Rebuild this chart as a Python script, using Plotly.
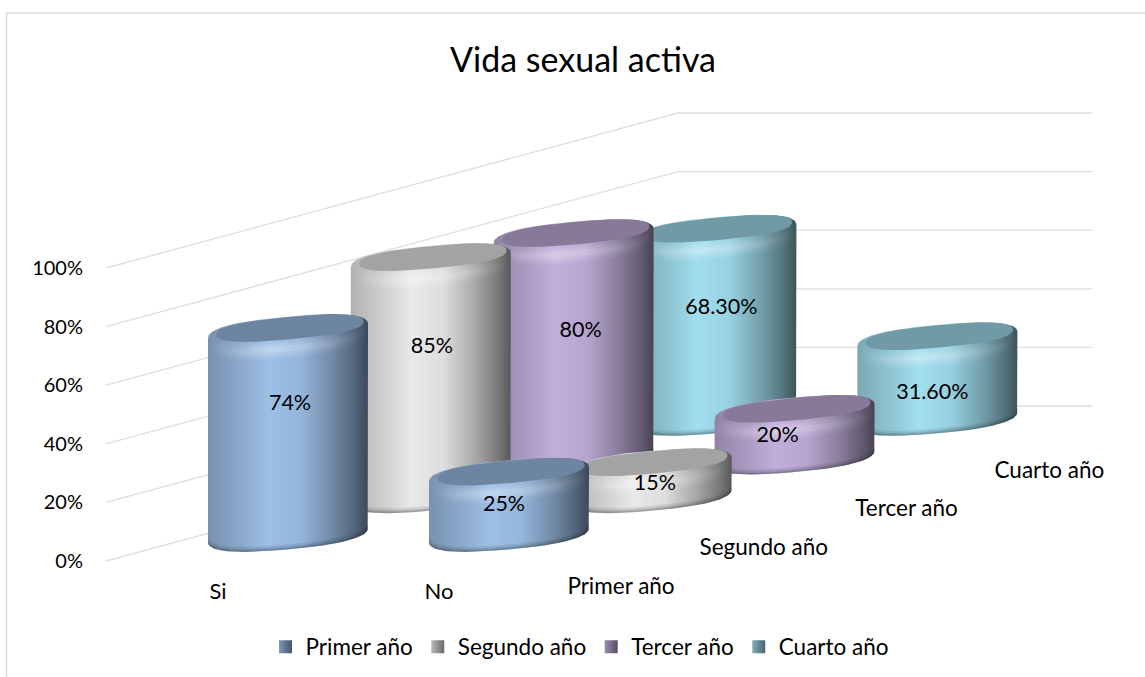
import math
import plotly.graph_objects as go

# ---------- data ----------
categories = ["Si", "No"]
series_names = ["Primer año", "Segundo año", "Tercer año", "Cuarto año"]
primer = [74, 25]
segundo = [85, 15]
tercer = [80, 20]
cuarto = [68.3, 31.6]
label_text = [["74%", "25%"], ["85%", "15%"], ["80%", "20%"], ["68.30%", "31.60%"]]
y_ticks = [0, 20, 40, 60, 80, 100]
values = [primer, segundo, tercer, cuarto]

# ---------- style / projection ----------
W, H = 1145, 677
FONT = "Lato"
PX = 2.93            # pixels per percent on the value axis
ZERO_PX = 561
X_LEFT = 100
base_colors = ["#9dbfe6", "#e9e9e9", "#c1aeda", "#a1deee"]
RX, RY, SHEAR = 80, 15.0, 0.09
SUPER = 0.8
X0, CAT_DX, SER_DX = 288, 221, 142.8
BASE0, SER_DY = 9.08, 13.2   # in percent units
BEVEL = 13 / PX
WALL_X0, WALL_X1, WALL_X2 = 106, 678, 1092
WALL_DY = 52.9
# manual data-label offsets (px) from the bar centre; y is measured from the mid-height
label_off = [[(2, -27.5), (-5, 1.5)], [(1, -30.5), (3, 4)], [(7, -14.5), (-17, 2.5)], [(5, -16), (-5, 15.5)]]


def rgb(hex_color, k=1.0):
    r, g, b = [int(hex_color[i:i + 2], 16) for i in (1, 3, 5)]
    return "rgb(%d,%d,%d)" % (min(255, r * k), min(255, g * k), min(255, b * k))


def spow(v, p):
    return math.copysign(abs(v) ** p, v)


def ell(cx, cy, rx, ry, t0, t1, n=60):
    xs, ys = [], []
    for i in range(n + 1):
        t = math.radians(t0 + (t1 - t0) * i / n)
        c, s = spow(math.cos(t), SUPER), spow(math.sin(t), SUPER)
        xs.append(cx + rx * c)
        ys.append(cy + (SHEAR * rx * c + ry * s) / PX)
    return xs, ys


def poly(xs, ys, **kw):
    return go.Scatter(x=xs, y=ys, mode="lines", fill="toself", line=dict(width=0),
                      hoverinfo="skip", showlegend=False, **kw)


fig = go.Figure()

# gridlines
for t in y_ticks:
    fig.add_trace(go.Scatter(
        x=[WALL_X0, WALL_X1, WALL_X2], y=[t, t + WALL_DY, t + WALL_DY], mode="lines",
        line=dict(color="#dedede", width=1.3), hoverinfo="skip", showlegend=False))


def cylinder(cx, base, v, col):
    top = base + v - BEVEL - 1 / PX
    body_stops = [(0, .76), (.16, .86), (.38, 1), (.58, .95), (.78, .72), (.92, .52), (1, .38)]
    cs = [[p, rgb(col, k)] for p, k in body_stops]
    # body silhouette
    x1, y1 = ell(cx, top, RX, RY, 180, 0)
    x2, y2 = ell(cx, base, RX, RY, 0, -180)
    fig.add_trace(poly(x1 + x2 + x1[:1], y1 + y2 + y1[:1],
                       fillgradient=dict(type="horizontal", colorscale=cs)))
    # bottom shade
    for d, a in ((5, .10), (3, .14), (1.5, .18)):
        xa, ya = ell(cx, base, RX, RY, 0, -180)
        xb, yb = ell(cx, base + d / PX, RX, RY, -180, 0)
        fig.add_trace(poly(xa + xb, ya + yb, fillcolor="rgba(30,40,50,%.2f)" % a))
    # highlight along the front of the top rim
    for d, a in ((9, .10), (6, .13), (3, .16)):
        xa, ya = ell(cx, top - (2 + d) / PX, RX - 1, RY, 180, 360)
        xb, yb = ell(cx, top - (2 - d) / PX, RX - 1, RY, 360, 180)
        fig.add_trace(poly(xa + xb, ya + yb, fillgradient=dict(
            type="horizontal",
            colorscale=[[0, "rgba(255,255,255,0)"], [.38, "rgba(255,255,255,%.2f)" % a],
                        [.72, "rgba(255,255,255,%.2f)" % (a * .5)], [1, "rgba(255,255,255,0)"]])))
    # top face
    xf, yf = ell(cx + 2, top + 3.5 / PX, RX * .92, RY * .75, 0, 360, 90)
    fig.add_trace(poly(xf, yf, fillcolor=rgb(col, .70)))


for s in range(len(values) - 1, -1, -1):
    for c in range(len(categories)):
        cylinder(X0 + CAT_DX * c + SER_DX * s, BASE0 + SER_DY * s, values[s][c], base_colors[s])

# value labels
for s in range(len(values)):
    for c in range(len(categories)):
        base = BASE0 + SER_DY * s
        top = base + values[s][c] - BEVEL
        dx, dy = label_off[s][c]
        fig.add_trace(go.Scatter(
            x=[X0 + CAT_DX * c + SER_DX * s + dx], y=[(base + top) / 2 - dy / PX],
            mode="text", text=[label_text[s][c]], textposition="middle center",
            textfont=dict(family=FONT, size=21.5, color="#000000"),
            hoverinfo="skip", showlegend=False))

# category and series axis labels
for c, name in enumerate(categories):
    fig.add_trace(go.Scatter(
        x=[218 + CAT_DX * c], y=[(ZERO_PX - 593) / PX], mode="text", text=[name],
        textfont=dict(family=FONT, size=22, color="#000000"), hoverinfo="skip", showlegend=False))
for s, name in enumerate(series_names):
    fig.add_trace(go.Scatter(
        x=[621 + SER_DX * s], y=[(ZERO_PX - 588) / PX + SER_DY * s], mode="text", text=[name],
        textfont=dict(family=FONT, size=22.5, color="#000000"), hoverinfo="skip", showlegend=False))

# legend entries
for s, name in enumerate(series_names):
    fig.add_trace(go.Scatter(
        x=[None], y=[None], mode="markers", name=name,
        marker=dict(symbol="square", size=13, color=rgb(base_colors[s], .8),
                    gradient=dict(type="horizontal", color=rgb(base_colors[s], .45)))))

fig.update_layout(
    width=W, height=H, margin=dict(l=0, r=0, t=0, b=0), autosize=False,
    paper_bgcolor="#ffffff", plot_bgcolor="rgba(0,0,0,0)",
    font=dict(family=FONT, color="#000000"),
    title=dict(text="Vida sexual activa", x=583 / W, y=1 - 60 / H, xanchor="center", yanchor="middle",
               font=dict(family=FONT, size=34, color="#000000")),
    xaxis=dict(domain=[X_LEFT / W, 1], range=[X_LEFT, W], visible=False, fixedrange=True),
    yaxis=dict(domain=[0, 1], range=[(ZERO_PX - H) / PX, ZERO_PX / PX], showgrid=False, zeroline=False,
               showline=False, tickmode="array", tickvals=y_ticks, ticktext=["%d%%" % t for t in y_ticks],
               ticks="", ticklabelstandoff=16, tickfont=dict(family=FONT, size=20, color="#000000"),
               fixedrange=True, automargin=False),
    legend=dict(orientation="h", x=580 / W, xanchor="center", y=1 - 647 / H, yanchor="middle",
                font=dict(family=FONT, size=22.5, color="#000000"), bgcolor="rgba(0,0,0,0)",
                itemclick=False, itemdoubleclick=False),
    shapes=[
        dict(type="line", xref="paper", yref="paper", x0=6.5 / W, x1=6.5 / W, y0=0, y1=1 - 13 / H,
             line=dict(color="#d9d9d9", width=1.5)),
        dict(type="line", xref="paper", yref="paper", x0=6.5 / W, x1=1, y0=1 - 13 / H, y1=1 - 13 / H,
             line=dict(color="#d9d9d9", width=1.5)),
    ],
)

fig.write_html("out.html", config=dict(displayModeBar=False),
               post_script="document.body.style.margin='0';")
